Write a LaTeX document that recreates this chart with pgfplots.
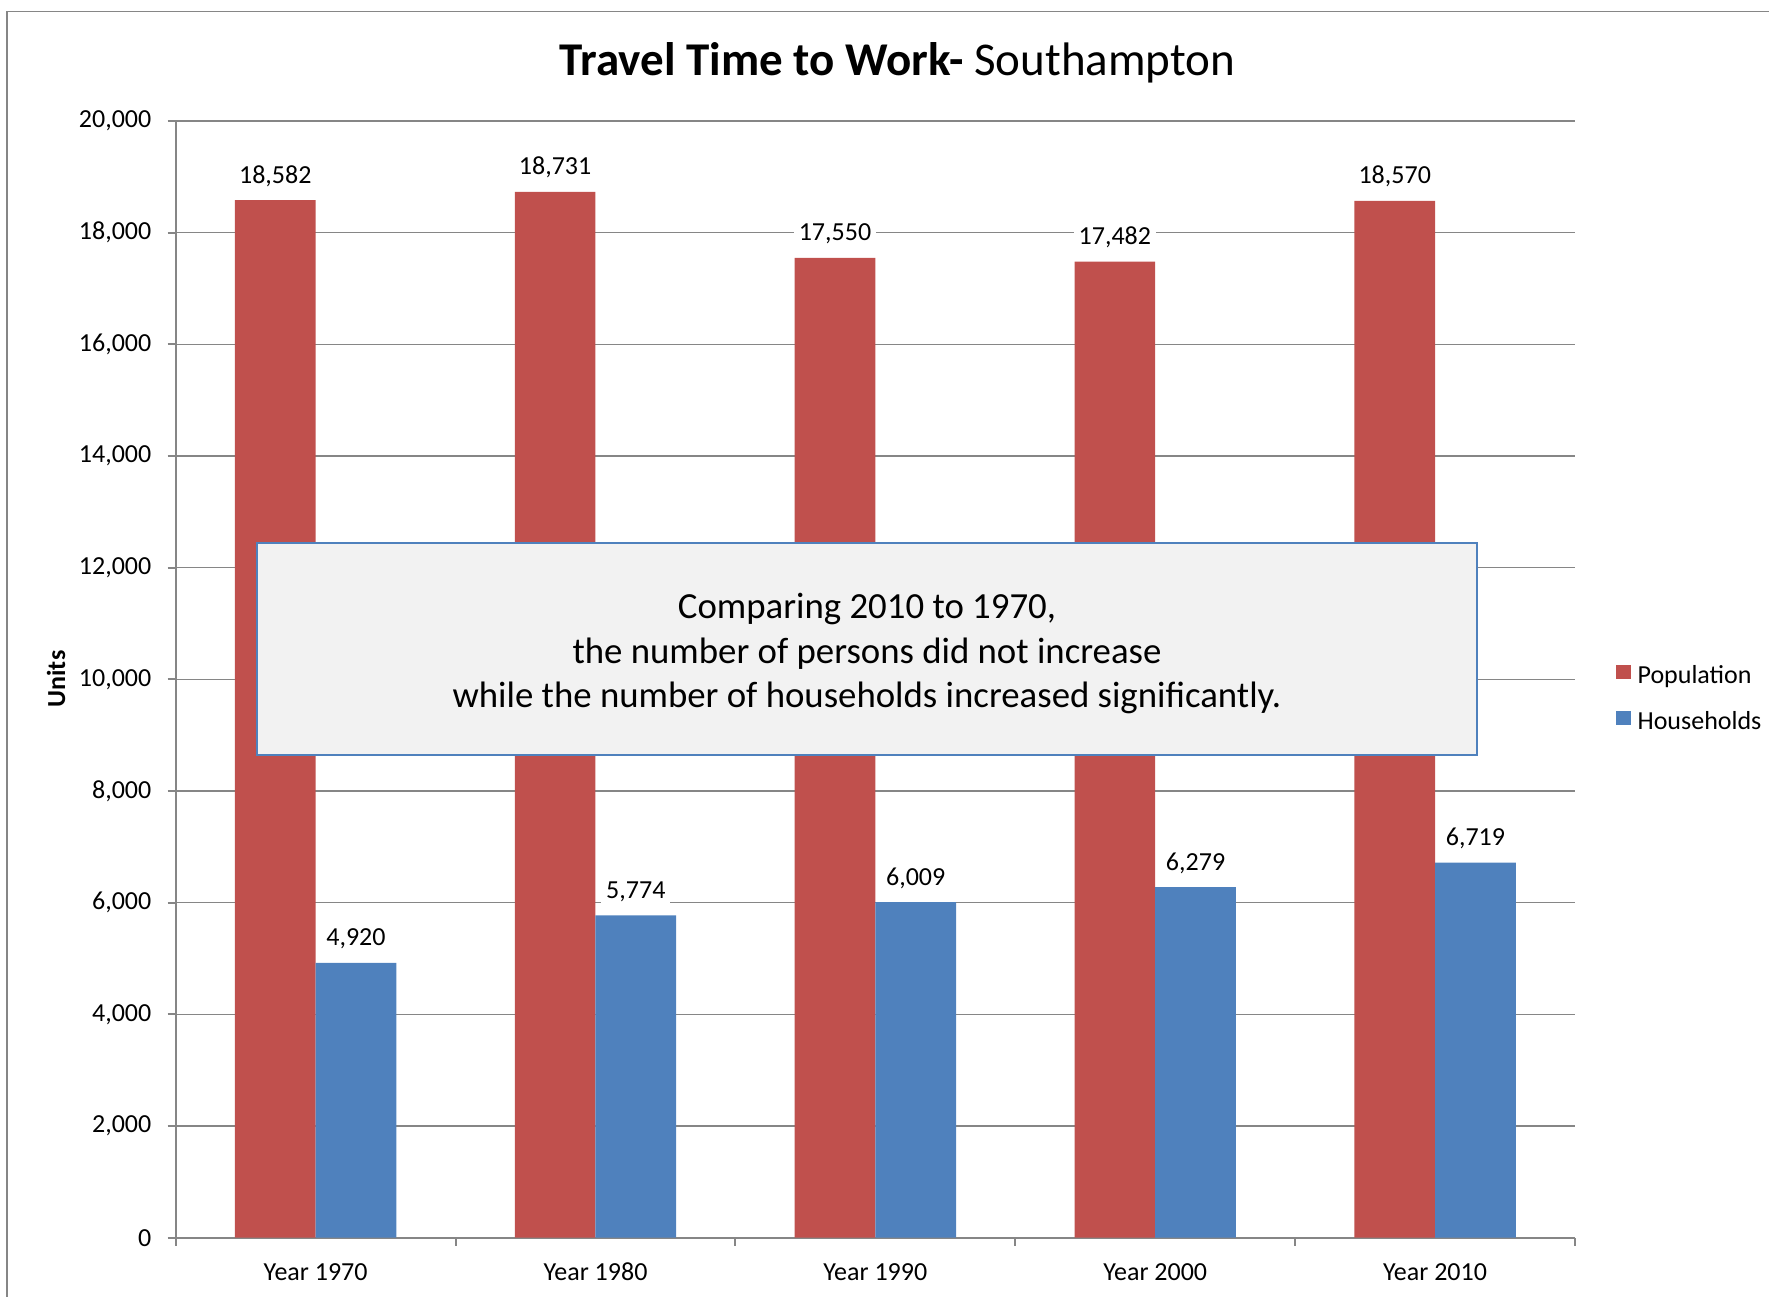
\documentclass[border=0pt]{standalone}
\usepackage{pgfplots}
\pgfplotsset{compat=1.18}
\usepackage{fontspec}
\setmainfont{Carlito}
\definecolor{popred}{HTML}{C0504D}
\definecolor{hhblue}{HTML}{4F81BD}
\definecolor{gridgray}{HTML}{868686}
\definecolor{boxfill}{HTML}{F2F2F2}
\begin{document}
\begin{tikzpicture}[x=0.5pt,y=0.5pt]
\useasboundingbox (0,0) rectangle (1769,1297);
\draw[gridgray, line width=0.75pt] (6.9,0) -- (6.9,1285.3) -- (1769,1285.3);
\begin{axis}[
  at={(87.85pt,29.65pt)}, anchor=south west,
  scale only axis, width=699.65pt, height=558.35pt,
  ybar, bar width=40.35pt,
  xmin=-0.5, xmax=4.5, ymin=0, ymax=20000,
  axis lines*=left,
  axis line style={gridgray, line width=1pt},
  ymajorgrids, grid style={gridgray, line width=0.7pt},
  ytick={0,2000,...,20000},
  xtick={0,1,2,3,4},
  xticklabels={Year 1970,Year 1980,Year 1990,Year 2000,Year 2010},
  minor xtick={-0.5,0.5,1.5,2.5,3.5,4.5},
  tick align=outside,
  major tick length=4pt, minor tick length=4pt,
  major x tick style={draw=none},
  minor x tick style={gridgray, line width=1pt},
  major y tick style={gridgray, line width=1pt},
  /pgf/number format/1000 sep={,},
  /pgf/number format/assume math mode=true,
  ticklabel style={font=\fontsize{13}{15}\selectfont},
  yticklabel style={anchor=east, inner sep=0pt, xshift=-8pt},
  xticklabel style={anchor=base, inner sep=0pt, yshift=-17.2pt},
  scaled y ticks=false,
  nodes near coords,
  every node near coord/.append style={font=\fontsize{13}{15}\selectfont, anchor=base, yshift=8.5pt, fill=white, inner sep=2.5pt, text=black},
  legend style={draw=none, fill=none, at={(1.0293,0.4813)}, anchor=west, font=\fontsize{13}{15}\selectfont, row sep=11pt, inner sep=0pt, nodes={inner sep=0pt, text height=9pt, text depth=3pt}},
  legend cell align=left,
  legend image code/.code={\fill[#1,draw=none] (0pt,-0.8pt) rectangle (7.3pt,6.2pt); \path (10.6pt,0pt);},
]
\addplot[fill=popred, draw=none, bar shift=-20.175pt] coordinates {(0,18582) (1,18731) (2,17550) (3,17482) (4,18570)};
\addplot[fill=hhblue, draw=none, bar shift=20.175pt] coordinates {(0,4920) (1,5774) (2,6009) (3,6279) (4,6719)};
\legend{Population,Households}
\end{axis}
\node[anchor=base, font=\fontsize{23.5}{28}\selectfont] at (897.5,1221) {\textbf{Travel Time to Work-} Southampton};
\node[rotate=90, font=\bfseries\fontsize{13}{15}\selectfont] at (56,618) {Units};
\draw[hhblue, line width=1pt, fill=boxfill] (257.3,542) rectangle (1476.7,754.3);
\begin{scope}[every node/.style={anchor=base, font=\fontsize{18.4}{22}\selectfont}]
\node at (867,678) {Comparing 2010 to 1970,};
\node at (867,633.5) {the number of persons did not increase};
\node at (867,589.5) {while the number of households increased significantly.};
\end{scope}
\end{tikzpicture}
\end{document}
